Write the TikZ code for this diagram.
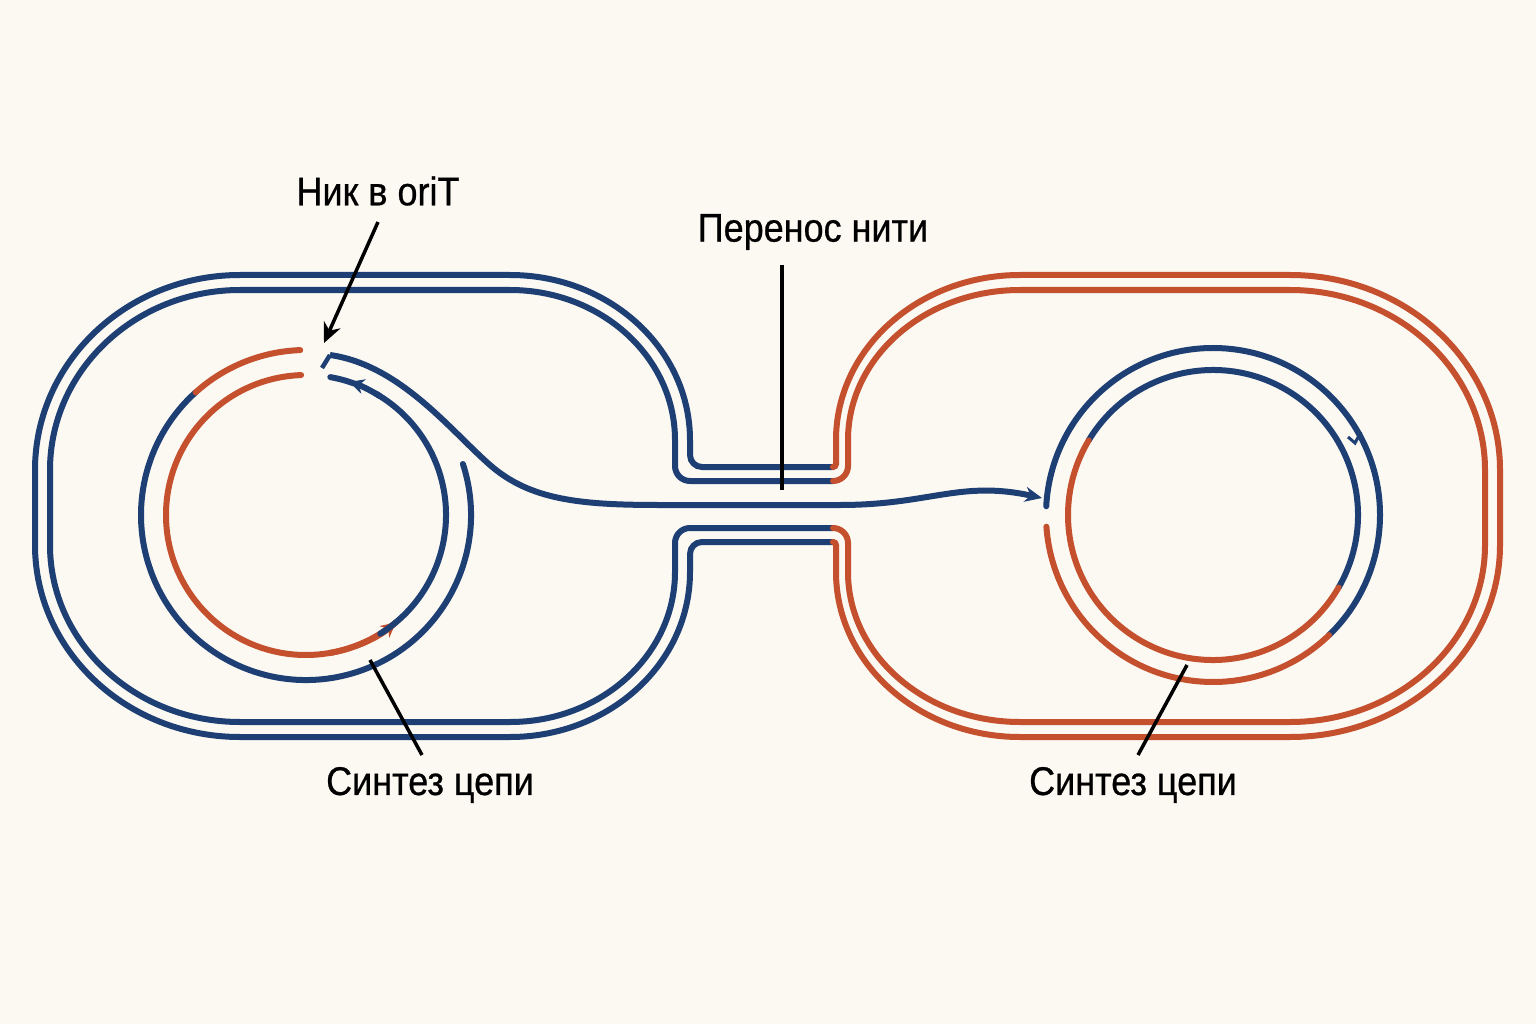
\documentclass[tikz,border=0pt]{standalone}
\usepackage{fontspec}
\setmainfont[FakeStretch=0.9,FakeBold=0.6]{Liberation Sans}
\usetikzlibrary{arrows.meta}
\definecolor{bl}{HTML}{1E3F73}
\definecolor{rd}{HTML}{C4502E}
\definecolor{bg}{HTML}{FCF9F3}
\begin{document}
\begin{tikzpicture}[x=1pt,y=-1pt,
  strand/.style={line width=6pt,line cap=round},
  ptr/.style={line width=3.5pt,black},
  lab/.style={font=\fontsize{40}{44}\selectfont,inner sep=0pt}]
\fill[bg] (0,0) rectangle (1536,1024);
\useasboundingbox (0,0) rectangle (1536,1024);
% left contour (blue)
\draw[strand,bl] (833,467) -- (702,467) arc(90:180:12) -- (690,440) arc[start angle=0,end angle=-90,x radius=180,y radius=165] -- (240,275) arc[start angle=-90,end angle=-180,x radius=205,y radius=195] -- (35,545) arc[start angle=180,end angle=90,x radius=205,y radius=192] -- (510,737) arc[start angle=90,end angle=0,x radius=180,y radius=165] -- (690,554) arc(180:270:12) -- (833,542);
\draw[strand,bl] (833,481) -- (690,481) arc(90:180:15) -- (675,440) arc[start angle=0,end angle=-90,x radius=165,y radius=150] -- (240,290) arc[start angle=-90,end angle=-180,x radius=190,y radius=180] -- (50,545) arc[start angle=180,end angle=90,x radius=190,y radius=177] -- (510,722) arc[start angle=90,end angle=0,x radius=165,y radius=150] -- (675,543) arc(180:270:15) -- (833,528);
% right contour (red)
\draw[strand,rd] (833,467) arc(90:0:3) -- (836,440) arc[start angle=180,end angle=270,x radius=184,y radius=165] -- (1290,275) arc[start angle=-90,end angle=0,x radius=210,y radius=195] -- (1500,545) arc[start angle=0,end angle=90,x radius=210,y radius=192] -- (1020,737) arc[start angle=90,end angle=180,x radius=184,y radius=165] -- (836,545) arc(0:-90:3);
\draw[strand,rd] (833,481) arc(90:0:15) -- (848,440) arc[start angle=180,end angle=270,x radius=172,y radius=150] -- (1290,290) arc[start angle=-90,end angle=0,x radius=195,y radius=180] -- (1485,545) arc[start angle=0,end angle=90,x radius=195,y radius=177] -- (1020,722) arc[start angle=90,end angle=180,x radius=172,y radius=150] -- (848,543) arc(0:-90:15);
% left circles
\coordinate (L) at (306,515);
\draw[strand,bl] ([shift={(-18:165)}]L) arc(-18:228:165);
\draw[strand,rd] ([shift={(228:165)}]L) arc(228:268:165);
\draw[strand,rd] ([shift={(-92:140)}]L) arc(-92:-310:140);
\draw[rd,line width=6pt,-{Stealth[length=15pt,width=15pt]}] ([shift={(80:140)}]L) arc(80:50:140);
\draw[strand,bl] ([shift={(58:140)}]L) arc(58:-60:140);
\draw[bl,line width=6pt,-{Stealth[length=15pt,width=15pt]}] ([shift={(-58:140)}]L) arc(-58:-72:140);
\draw[strand,bl] ([shift={(-70:140)}]L) arc(-70:-80:140);
% transfer strand
\coordinate (nick) at (330,355);
\coordinate (recv) at (1042,498);
\draw[bl,line width=6pt,-{Stealth[length=17pt,width=15pt]}] (nick) .. controls (400,365) and (450,430) .. (490,465) .. controls (530,500) and (580,505) .. (660,505) -- (840,505) .. controls (930,505) and (960,480) .. (recv);
\draw[bl,line width=4.5pt] (nick) -- (322,368);
% right circles
\coordinate (R) at (1213,515);
\draw[strand,bl] ([shift={(183:167)}]R) arc(183:406:167);
\draw[strand,rd] ([shift={(46:167)}]R) arc(46:176:167);
\draw[strand,bl] ([shift={(211:145)}]R) arc(211:390:145);
\draw[strand,rd] ([shift={(30:145)}]R) arc(30:211:145);
\draw[bl,line width=3pt] (1348,437) -- (1355,443) -- (1361,432);
% pointers and labels
\node[lab] (nik) at (378,191) {Ник в oriT};
\draw[ptr,-{Stealth[length=20pt,width=18pt]}] (378,222) -- (324,343);
\node[lab] (per) at (813,232) {Перенос нити};
\draw[ptr] (782,265) -- (782,490);
\node[lab] (s1) at (430,785) {Синтез цепи};
\draw[ptr] (370,660) -- (422,755);
\node[lab] (s2) at (1133,785) {Синтез цепи};
\draw[ptr] (1187,665) -- (1138,755);
\end{tikzpicture}
\end{document}
